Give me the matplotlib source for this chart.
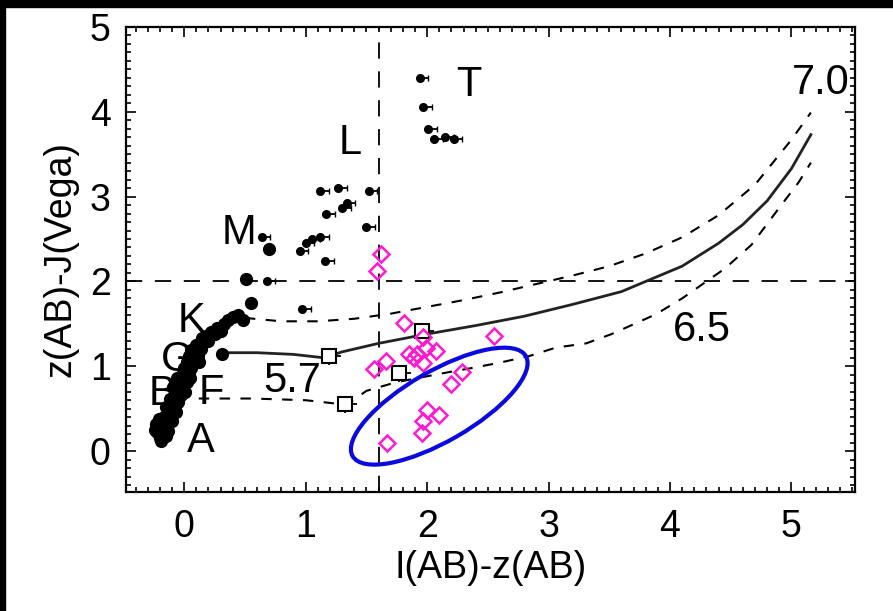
import numpy as np
import matplotlib
matplotlib.use("Agg")
import matplotlib.pyplot as plt
from matplotlib.patches import Ellipse, Rectangle
from matplotlib.transforms import ScaledTranslation
from matplotlib.ticker import MultipleLocator

plt.rcParams['font.family'] = ['Liberation Sans Narrow', 'Liberation Sans', 'DejaVu Sans']

# estrelas da sequencia principal (A..K), pontos cheios
ms_x = [-0.20, -0.22, -0.18, -0.20, -0.17, -0.15, -0.16, -0.13, -0.14, -0.12, -0.11, -0.09,
        -0.10, -0.07, -0.08, -0.05, -0.06, -0.03, -0.04, -0.01, -0.02, 0.01, 0.00, 0.03,
        0.02, 0.05, 0.04, 0.07, 0.06, 0.09, 0.10, 0.13, 0.15, 0.18, 0.20, 0.22, 0.25, 0.27,
        0.30, 0.33, 0.36, 0.40, 0.44, 0.48, 0.31, 0.55, 0.51, 0.70,
        -0.24, -0.23, -0.19, -0.17, -0.21, -0.13, -0.15, -0.10, -0.12, -0.07, -0.09, -0.05,
        -0.03, -0.01, 0.02, 0.04, 0.06, 0.08, 0.11, 0.14, 0.12, 0.05, 0.01, -0.06]
ms_y = [0.15, 0.22, 0.20, 0.30, 0.28, 0.18, 0.35, 0.32, 0.42, 0.40, 0.50, 0.48,
        0.58, 0.56, 0.66, 0.64, 0.74, 0.72, 0.82, 0.80, 0.90, 0.88, 0.98, 0.96,
        1.05, 1.03, 1.12, 1.10, 1.19, 1.17, 1.25, 1.28, 1.33, 1.36, 1.30, 1.40, 1.38, 1.45,
        1.42, 1.50, 1.55, 1.58, 1.60, 1.55, 1.15, 1.75, 2.03, 2.38,
        0.25, 0.32, 0.12, 0.40, 0.38, 0.24, 0.52, 0.36, 0.62, 0.46, 0.76, 0.58,
        0.66, 0.74, 0.82, 0.92, 0.98, 1.06, 1.12, 1.20, 1.05, 0.86, 0.70, 0.86]

# anas M, L, T (com barra pequena)
mlt_x = [0.64, 0.68, 0.97, 0.95, 1.00, 1.05, 1.12, 1.17, 1.16, 1.12, 1.27, 1.34, 1.30,
         1.52, 1.50, 1.94, 1.97, 2.01, 2.06, 2.15, 2.22]
mlt_y = [2.52, 2.00, 1.68, 2.36, 2.45, 2.50, 2.52, 2.80, 2.24, 3.06, 3.10, 2.92, 2.87,
         3.06, 2.64, 4.40, 4.05, 3.80, 3.68, 3.70, 3.68]

# quasares candidatos (losangos magenta)
qso_x = [1.62, 1.59, 1.81, 2.55, 1.97, 1.85, 1.92, 1.99, 2.07, 1.97, 1.66, 1.56,
         2.29, 2.20, 2.00, 2.10, 1.97, 1.96, 1.67, 1.89]
qso_y = [2.32, 2.12, 1.51, 1.36, 1.34, 1.14, 1.14, 1.22, 1.18, 1.04, 1.06, 0.97,
         0.93, 0.79, 0.48, 0.42, 0.36, 0.21, 0.09, 1.10]

# quadrados abertos
sq_x = [1.19, 1.96, 1.77, 1.32]
sq_y = [1.12, 1.42, 0.92, 0.55]

# trilhas de modelo
solid_x = [0.30, 0.60, 0.90, 1.15, 1.30, 1.60, 2.00, 2.40, 2.80, 3.20, 3.60, 3.80, 4.10,
           4.40, 4.60, 4.80, 5.00, 5.16]
solid_y = [1.16, 1.16, 1.14, 1.10, 1.17, 1.27, 1.38, 1.48, 1.59, 1.73, 1.88, 2.00, 2.18,
           2.45, 2.67, 2.95, 3.33, 3.73]
up_x = [0.50, 0.80, 1.10, 1.40, 1.70, 2.00, 2.30, 2.60, 2.90, 3.20, 3.50, 3.80, 4.10,
        4.40, 4.70, 5.00, 5.16]
up_y = [1.57, 1.53, 1.53, 1.56, 1.62, 1.70, 1.78, 1.87, 1.97, 2.07, 2.18, 2.33, 2.52,
        2.78, 3.14, 3.67, 3.99]
low_x = [0.12, 0.56, 1.00, 1.25, 1.33, 1.50, 1.74, 2.10, 2.37, 2.59, 2.84, 3.06, 3.31,
         3.52, 3.88, 4.10, 4.26, 4.45, 4.67, 4.89, 5.06, 5.16]
low_y = [0.62, 0.62, 0.60, 0.56, 0.54, 0.71, 0.81, 0.91, 0.98, 1.04, 1.12, 1.22, 1.27,
         1.38, 1.61, 1.80, 1.96, 2.15, 2.43, 2.85, 3.17, 3.40]

# rotulos (x, y na linha de base)
labels = ["T", "L", "M", "K", "G", "B", "F", "A", "5.7", "6.5", "7.0"]
lab_x = [2.34, 1.37, 0.45, 0.06, -0.06, -0.18, 0.22, 0.14, 0.89, 4.26, 5.24]
lab_y = [4.19, 3.50, 2.44, 1.40, 0.95, 0.54, 0.56, -0.01, 0.70, 1.30, 4.21]

fig = plt.figure(figsize=(8.93, 6.11), dpi=100)
ax = fig.add_axes([0.141, 0.195, 0.816, 0.761])

# moldura preta em cima e a esquerda
fig.patches.append(Rectangle((0, 1 - 7 / 611), 1, 7 / 611, transform=fig.transFigure,
                             color='black', zorder=10))
fig.patches.append(Rectangle((0, 0), 5 / 893, 1, transform=fig.transFigure,
                             color='black', zorder=10))

ax.axvline(1.6, color='black', lw=1.3, dashes=(9, 7), zorder=1)
ax.axhline(2.0, color='black', lw=1.3, dashes=(9, 7), zorder=1)

ax.plot(solid_x, solid_y, color='#222222', lw=2, zorder=2)
ax.plot(up_x, up_y, color='black', lw=1.5, dashes=(5, 5), zorder=2)
ax.plot(low_x, low_y, color='black', lw=1.5, dashes=(5, 5), zorder=2)

ax.plot(ms_x, ms_y, 'o', color='black', ms=8.5, zorder=3)
ax.errorbar(mlt_x, mlt_y, xerr=[np.zeros(len(mlt_x)), np.full(len(mlt_x), 0.07)],
            fmt='o', color='black', ms=5.5, elinewidth=1.3, capsize=2.5, zorder=3)
ax.errorbar(sq_x, sq_y, yerr=[np.full(4, 0.1), np.zeros(4)], xerr=[np.zeros(4), np.full(4, 0.1)],
            fmt='none', ecolor='black', elinewidth=1.3, capsize=0, zorder=3)
ax.plot(sq_x, sq_y, 's', mfc='white', mec='black', ms=10, mew=1.5, zorder=3.5)
ax.plot(qso_x, qso_y, 'D', mfc='none', mec='#ff1ad0', ms=8, mew=1.8, zorder=4)

for t, x, y in zip(labels, lab_x, lab_y):
    ax.text(x, y, t, fontsize=30, ha='center', va='baseline', zorder=5)

# elipse azul em torno dos candidatos
tr = fig.dpi_scale_trans + ScaledTranslation(2.10, 0.53, ax.transData)
ax.add_patch(Ellipse((0, 0), 2.0, 0.7, angle=30, transform=tr, fill=False,
                     edgecolor='#0a0ae0', lw=3, zorder=6, clip_on=False))

ax.set_xlim(-0.48, 5.52)
ax.set_ylim(-0.48, 5.0)
ax.xaxis.set_major_locator(MultipleLocator(1))
ax.xaxis.set_minor_locator(MultipleLocator(0.1))
ax.yaxis.set_major_locator(MultipleLocator(1))
ax.yaxis.set_minor_locator(MultipleLocator(0.1))
ax.tick_params(which='both', direction='in', top=True, right=True, width=1.2)
ax.tick_params(which='major', length=7, labelsize=27)
ax.tick_params(which='minor', length=3.5)
ax.tick_params(axis='x', pad=12)
ax.tick_params(axis='y', pad=11)
for s in ax.spines.values():
    s.set_linewidth(1.6)

ax.set_xlabel("I(AB)-z(AB)", fontsize=27, labelpad=4)
ax.set_ylabel("z(AB)-J(Vega)", fontsize=27, labelpad=8)

fig.savefig("out.png", dpi=100)
